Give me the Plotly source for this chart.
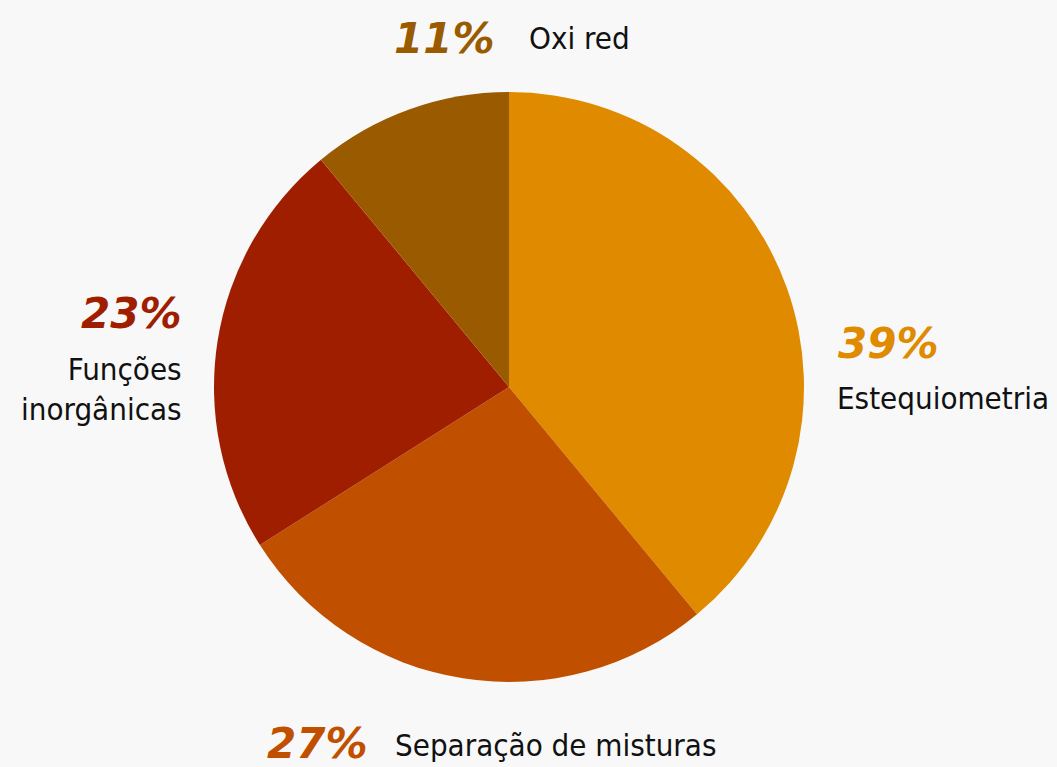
import plotly.graph_objects as go

W, H = 1057, 767

labels = ["Estequiometria", "Separação de misturas", "Funções inorgânicas", "Oxi red"]
label_text = ["Estequiometria", "Separação de misturas", "Funções<br>inorgânicas", "Oxi red"]
values = [39, 27, 23, 11]
colors = ["#E08A00", "#C05000", "#A01E00", "#9A5A00"]

# layout (pixel positions of the annotation blocks)
cx, cy, r = 509, 387, 295

def px(x):
    return x / W

def py(y):
    return 1 - y / H

fig = go.Figure()
fig.add_trace(go.Pie(
    labels=labels, values=values, sort=False, direction="clockwise", rotation=0,
    marker=dict(colors=colors, line=dict(width=0)),
    textinfo="none", hoverinfo="label+percent", showlegend=False,
    domain=dict(x=[px(cx - r), px(cx + r)], y=[py(cy + r), py(cy - r)]),
))

LABEL_FONT = dict(family="DejaVu Sans Condensed, DejaVu Sans, sans-serif", size=31, color="#111111")
PCT_FONT = dict(family="DejaVu Sans, sans-serif", size=42, weight=700, style="italic")

# (pct x, pct y, pct anchor, label x, label y, label anchor)
placements = [
    (836, 343, "left", 835, 398, "left"),
    (370, 743, "right", 393, 745, "left"),
    (184, 313, "right", 184, 389, "right"),
    (497, 38, "right", 527, 38, "left"),
]

for lt, v, c, (pxx, pyy, pa, lx, ly, la) in zip(label_text, values, colors, placements):
    fig.add_annotation(x=px(pxx), y=py(pyy), xref="paper", yref="paper", showarrow=False,
                       text=f"{v}%", xanchor=pa, yanchor="middle",
                       font=dict(PCT_FONT, color=c))
    fig.add_annotation(x=px(lx), y=py(ly), xref="paper", yref="paper", showarrow=False,
                       text=lt, xanchor=la, yanchor="middle", align=la,
                       font=LABEL_FONT)

fig.update_layout(
    width=W, height=H, margin=dict(l=0, r=0, t=0, b=0),
    paper_bgcolor="#F8F8F8", plot_bgcolor="#F8F8F8",
)
fig.write_html("out.html", config={"displayModeBar": False},
               post_script="document.body.style.margin='0';document.body.style.overflow='hidden';")
